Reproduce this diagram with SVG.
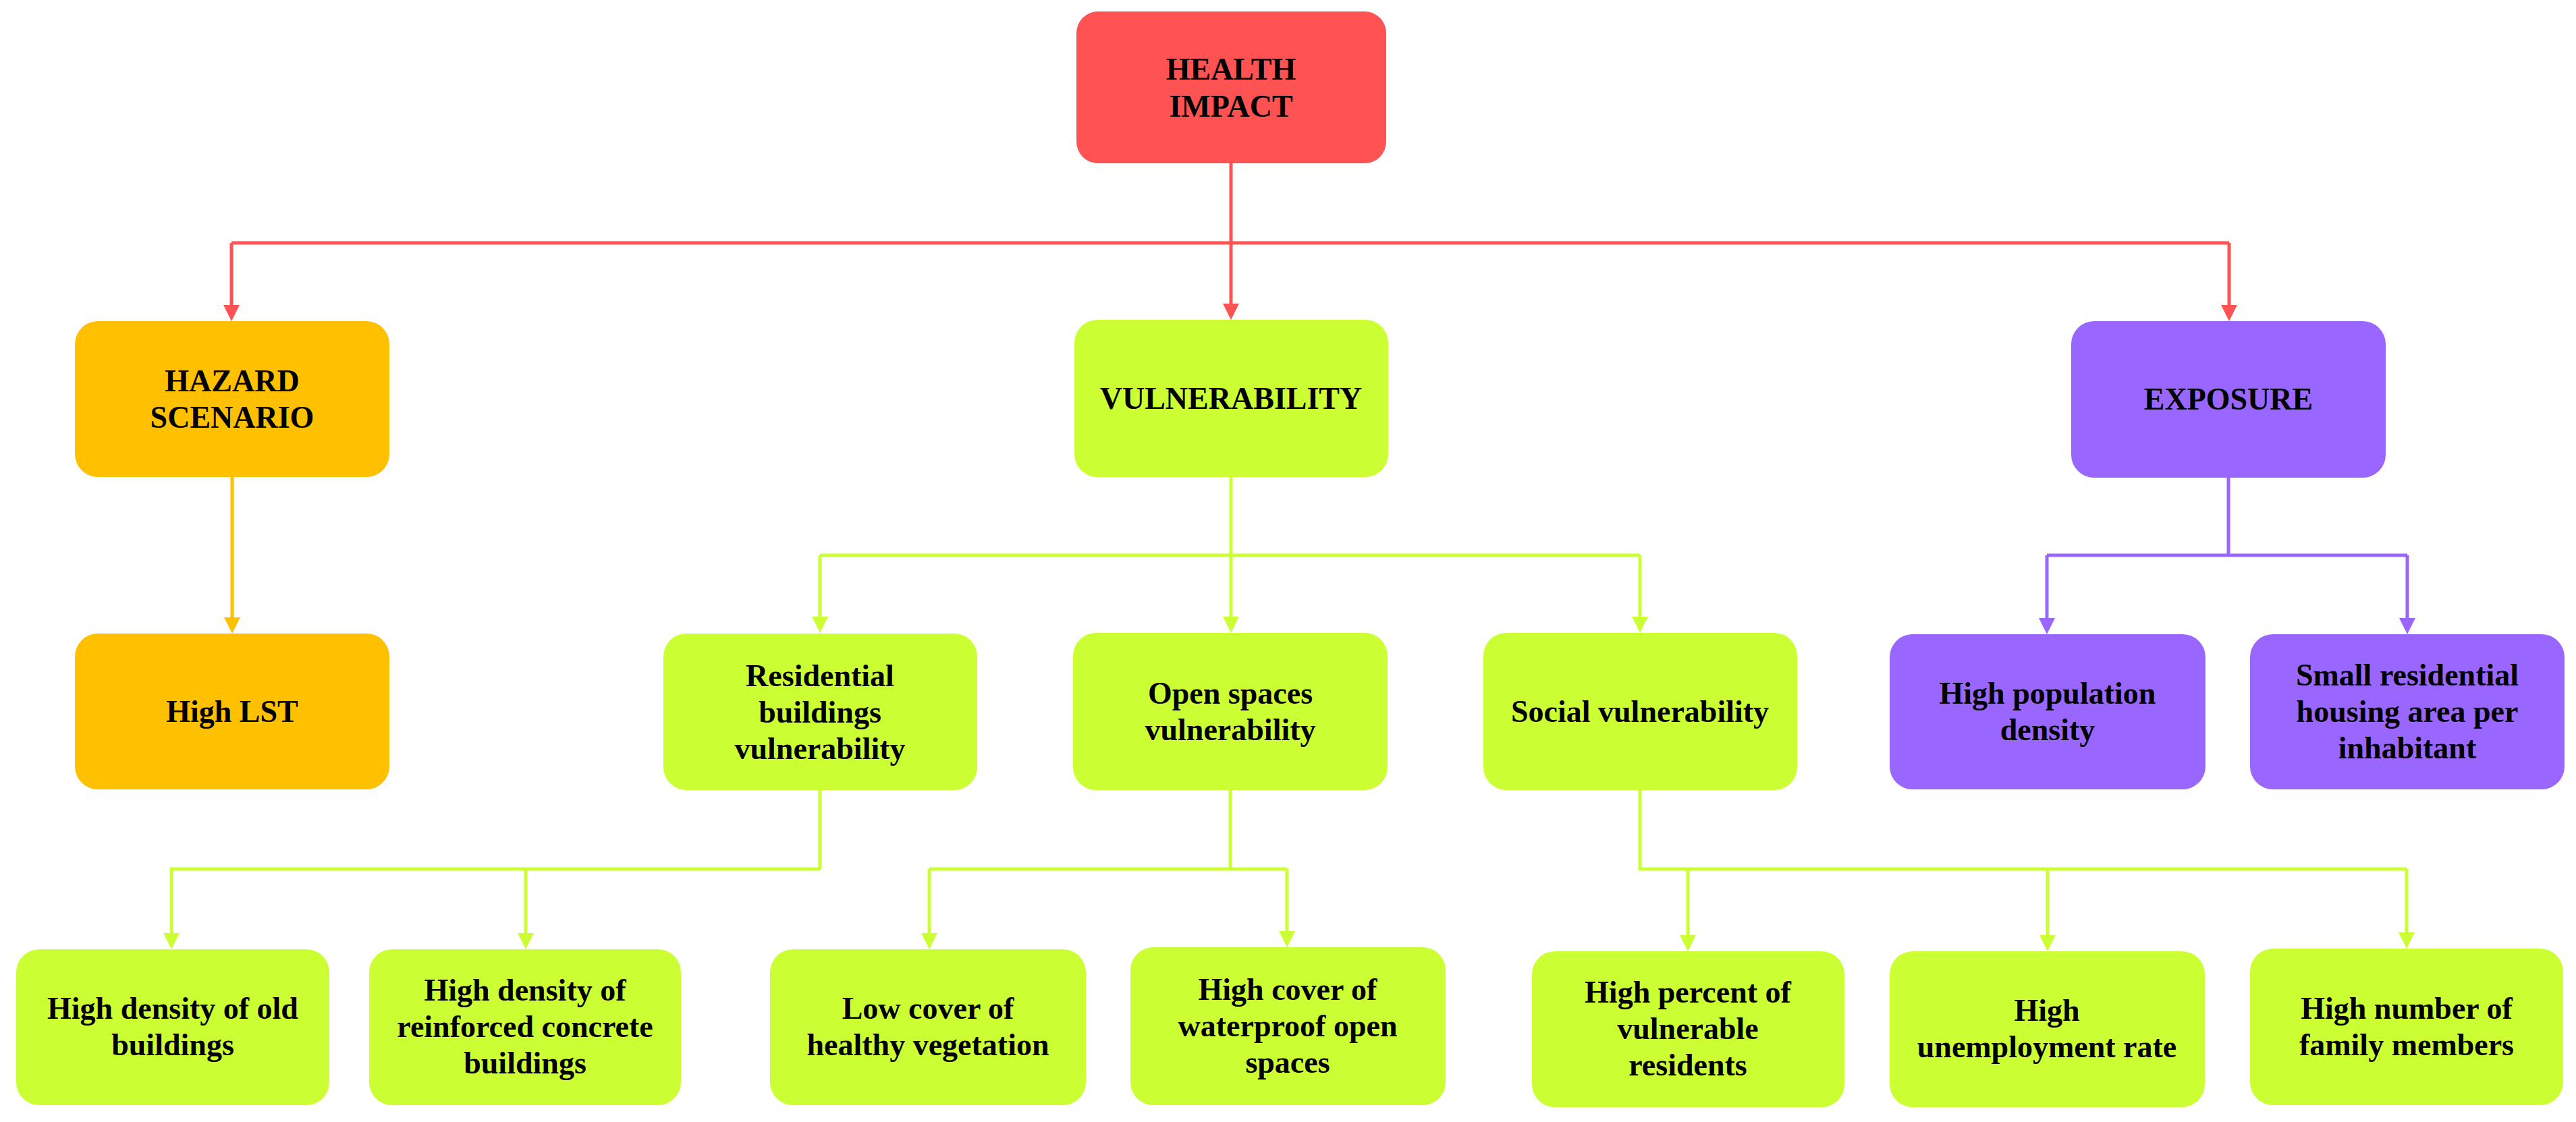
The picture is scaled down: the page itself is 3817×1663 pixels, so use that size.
<svg xmlns="http://www.w3.org/2000/svg" width="3817" height="1663" viewBox="0 0 3817 1663">
<style>
.lbl{font-family:"Liberation Serif","Times New Roman",serif;font-weight:bold;font-size:46px;fill:#000;text-anchor:middle}
.red{fill:#FF5252}.org{fill:#FFC000}.grn{fill:#CCFF33}.pur{fill:#9966FF}
.c{fill:none;stroke-width:5}
.cr{stroke:#FF5252}.co{stroke:#FFC000}.cg{stroke:#CCFF33}.cp{stroke:#9966FF}
</style>
<defs>
<marker id="ar" markerUnits="userSpaceOnUse" markerWidth="24" markerHeight="24" refX="12" refY="12" orient="auto"><path d="M0,0 L24,12 L0,24 z" fill="#FF5252"/></marker>
<marker id="ao" markerUnits="userSpaceOnUse" markerWidth="24" markerHeight="24" refX="12" refY="12" orient="auto"><path d="M0,0 L24,12 L0,24 z" fill="#FFC000"/></marker>
<marker id="ag" markerUnits="userSpaceOnUse" markerWidth="24" markerHeight="24" refX="12" refY="12" orient="auto"><path d="M0,0 L24,12 L0,24 z" fill="#CCFF33"/></marker>
<marker id="ap" markerUnits="userSpaceOnUse" markerWidth="24" markerHeight="24" refX="12" refY="12" orient="auto"><path d="M0,0 L24,12 L0,24 z" fill="#9966FF"/></marker>
</defs>
<rect width="3817" height="1663" fill="#fff"/>
<g id="connectors">
<path class="c cr" d="M343,360 H3303"/>
<path class="c cr" d="M1824,242 V462" marker-end="url(#ar)"/>
<path class="c cr" d="M343,360 V464" marker-end="url(#ar)"/>
<path class="c cr" d="M3303,360 V464" marker-end="url(#ar)"/>
<path class="c co" d="M344,707 V927" marker-end="url(#ao)"/>
<path class="c cg" d="M1824,707 V823 M1215,823 H2430"/>
<path class="c cg" d="M1215,823 V926" marker-end="url(#ag)"/>
<path class="c cg" d="M1824,823 V926" marker-end="url(#ag)"/>
<path class="c cg" d="M2430,823 V926" marker-end="url(#ag)"/>
<path class="c cp" d="M3302,708 V823 M3033,823 H3567"/>
<path class="c cp" d="M3033,823 V928" marker-end="url(#ap)"/>
<path class="c cp" d="M3567,823 V928" marker-end="url(#ap)"/>
<path class="c cg" d="M1215,1171 V1288 M252,1288 H1215"/>
<path class="c cg" d="M254,1288 V1395" marker-end="url(#ag)"/>
<path class="c cg" d="M779,1288 V1395" marker-end="url(#ag)"/>
<path class="c cg" d="M1823,1171 V1288 M1377,1288 H1907"/>
<path class="c cg" d="M1377,1288 V1395" marker-end="url(#ag)"/>
<path class="c cg" d="M1907,1288 V1392" marker-end="url(#ag)"/>
<path class="c cg" d="M2430,1171 V1288 H3566"/>
<path class="c cg" d="M2501,1288 V1398" marker-end="url(#ag)"/>
<path class="c cg" d="M3034,1288 V1398" marker-end="url(#ag)"/>
<path class="c cg" d="M3566,1288 V1394" marker-end="url(#ag)"/>
</g>
<g id="health"><rect class="red" x="1595" y="17" width="459" height="225" rx="32"/><text class="lbl"><tspan x="1824" y="118">HEALTH</tspan><tspan x="1824" y="173">IMPACT</tspan></text></g>
<g id="hazard"><rect class="org" x="111" y="476" width="466" height="231" rx="34"/><text class="lbl"><tspan x="344" y="580">HAZARD</tspan><tspan x="344" y="634">SCENARIO</tspan></text></g>
<g id="vulnerability"><rect class="grn" x="1592" y="474" width="465" height="233" rx="34"/><text class="lbl" x="1824" y="606">VULNERABILITY</text></g>
<g id="exposure"><rect class="pur" x="3069" y="476" width="466" height="232" rx="34"/><text class="lbl" x="3302" y="607">EXPOSURE</text></g>
<g id="highlst"><rect class="org" x="111" y="939" width="466" height="231" rx="34"/><text class="lbl" x="344" y="1070">High LST</text></g>
<g id="residential"><rect class="grn" x="983" y="939" width="465" height="232" rx="34"/><text class="lbl"><tspan x="1215" y="1017">Residential</tspan><tspan x="1215" y="1071">buildings</tspan><tspan x="1215" y="1125">vulnerability</tspan></text></g>
<g id="openspaces"><rect class="grn" x="1590" y="938" width="466" height="233" rx="34"/><text class="lbl"><tspan x="1823" y="1043">Open spaces</tspan><tspan x="1823" y="1097">vulnerability</tspan></text></g>
<g id="social"><rect class="grn" x="2198" y="938" width="465" height="233" rx="34"/><text class="lbl" x="2430" y="1070">Social vulnerability</text></g>
<g id="highpop"><rect class="pur" x="2800" y="940" width="468" height="230" rx="34"/><text class="lbl"><tspan x="3034" y="1043">High population</tspan><tspan x="3034" y="1097">density</tspan></text></g>
<g id="smallhousing"><rect class="pur" x="3334" y="940" width="466" height="230" rx="34"/><text class="lbl"><tspan x="3567" y="1016">Small residential</tspan><tspan x="3567" y="1070">housing area per</tspan><tspan x="3567" y="1124">inhabitant</tspan></text></g>
<g id="oldbuildings"><rect class="grn" x="24" y="1407" width="464" height="231" rx="34"/><text class="lbl"><tspan x="256" y="1510">High density of old</tspan><tspan x="256" y="1564">buildings</tspan></text></g>
<g id="reinforced"><rect class="grn" x="547" y="1407" width="462" height="231" rx="34"/><text class="lbl"><tspan x="778" y="1483">High density of</tspan><tspan x="778" y="1537">reinforced concrete</tspan><tspan x="778" y="1591">buildings</tspan></text></g>
<g id="lowcover"><rect class="grn" x="1141" y="1407" width="468" height="231" rx="34"/><text class="lbl"><tspan x="1375" y="1510">Low cover of</tspan><tspan x="1375" y="1564">healthy vegetation</tspan></text></g>
<g id="highcover"><rect class="grn" x="1675" y="1404" width="467" height="234" rx="34"/><text class="lbl"><tspan x="1908" y="1482">High cover of</tspan><tspan x="1908" y="1536">waterproof open</tspan><tspan x="1908" y="1590">spaces</tspan></text></g>
<g id="percent"><rect class="grn" x="2270" y="1410" width="463" height="231" rx="34"/><text class="lbl"><tspan x="2501" y="1486">High percent of</tspan><tspan x="2501" y="1540">vulnerable</tspan><tspan x="2501" y="1594">residents</tspan></text></g>
<g id="unemployment"><rect class="grn" x="2800" y="1410" width="467" height="231" rx="34"/><text class="lbl"><tspan x="3033" y="1513">High</tspan><tspan x="3033" y="1567">unemployment rate</tspan></text></g>
<g id="family"><rect class="grn" x="3334" y="1406" width="464" height="232" rx="34"/><text class="lbl"><tspan x="3566" y="1510">High number of</tspan><tspan x="3566" y="1564">family members</tspan></text></g>
</svg>
